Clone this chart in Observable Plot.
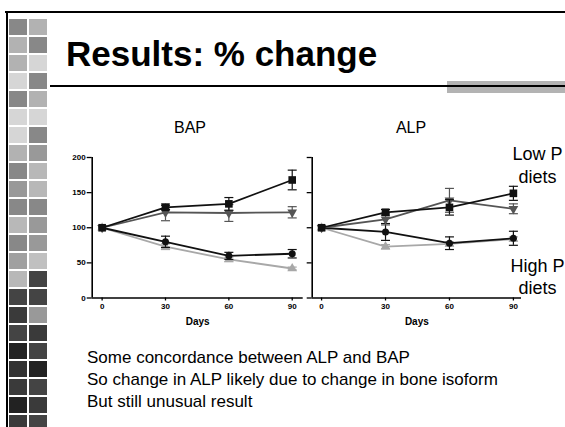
<!DOCTYPE html>
<html><head><meta charset="utf-8">
<script src="https://cdn.jsdelivr.net/npm/d3@7"></script>
<script src="https://cdn.jsdelivr.net/npm/@observablehq/plot@0.6"></script>
<style>
body{margin:0;background:#fff;}
#slide{position:relative;width:565px;height:427px;overflow:hidden;background:#fff;font-family:"Liberation Sans",Arial,sans-serif;color:#000;}
.abs{position:absolute;}
</style></head><body><div id="slide"></div>
<script>
// ---------- data ----------
const days = [0, 30, 60, 90];
const yTicks = [0, 50, 100, 150, 200];
const xTicks = [0, 30, 60, 90];

// BAP panel (% change), mean and error
const bapSquare = [100, 129, 134, 168];
const bapSquareErr = [0, 3, 9, 14];
const bapTriDown = [100, 122, 121, 122];
const bapTriDownErr = [0, 12, 12, 8];
const bapCircle = [100, 80, 60, 63];
const bapCircleErr = [0, 8, 5, 6];
const bapTriUp = [100, 73, 55, 42];
const bapTriUpErr = [0, 4, 3, 2];

// ALP panel
const alpSquare = [100, 122, 129, 149];
const alpSquareErr = [0, 4, 11, 10];
const alpTriDown = [100, 112, 139, 127];
const alpTriDownErr = [0, 8, 17, 7];
const alpCircle = [100, 94, 78, 85];
const alpCircleErr = [0, 12, 9, 10];
const alpTriUp = [100, 73, 77, 84];
const alpTriUpErr = [0, 3, 3, 3];

const panelTitles = ["BAP", "ALP"];
const xLabel = "Days";
const titleText = "Results: % change";
const bodyLines = ["Some concordance between ALP and BAP", "So change in ALP likely due to change in bone isoform", "But still unusual result"];
const lowLabel = ["Low P", "diets"];
const highLabel = ["High P", "diets"];

// decorative tile column colours (left, right) per row
const tileLeft  = ["#888888","#b2b2b2","#b2b2b2","#d6d6d6","#888888","#d6d6d6","#d6d6d6","#b2b2b2","#888888","#999999","#888888","#b8b8b8","#888888","#a0a0a0","#b8b8b8","#444444","#3a3a3a","#444444","#222222","#333333","#3a3a3a","#222222","#3a3a3a"];
const tileRight = ["#b2b2b2","#888888","#d6d6d6","#888888","#b2b2b2","#d6d6d6","#888888","#999999","#b8b8b8","#b8b8b8","#888888","#999999","#999999","#c0c0c0","#444444","#444444","#999999","#3a3a3a","#444444","#222222","#444444","#3a3a3a","#444444"];

// ---------- symbols ----------
const sqrt3 = Math.sqrt(3);
const triUp = {draw(ctx, size){ const y = -Math.sqrt(size/(sqrt3*3)); ctx.moveTo(0, y*2); ctx.lineTo(-sqrt3*y, -y); ctx.lineTo(sqrt3*y, -y); ctx.closePath(); }};
const triDown = {draw(ctx, size){ const y = Math.sqrt(size/(sqrt3*3)); ctx.moveTo(0, y*2); ctx.lineTo(-sqrt3*y, -y); ctx.lineTo(sqrt3*y, -y); ctx.closePath(); }};
const capSym = {draw(ctx, size){ const r = Math.sqrt(size/Math.PI); ctx.moveTo(-r, 0); ctx.lineTo(r, 0); }};

const seriesStyle = [
  {key: "tup", symbol: triUp, color: "#a8a8a8", r: 3.6},
  {key: "circ", symbol: "circle", color: "#111", r: 3.5},
  {key: "tdown", symbol: triDown, color: "#555", r: 3.6},
  {key: "sq", symbol: "square", color: "#111", r: 4.3}
];

function rowsFor(vals, errs){ return days.map((d,i)=>({day:d, v:vals[i], e:errs[i]})); }

const bapData = {tup: rowsFor(bapTriUp,bapTriUpErr), circ: rowsFor(bapCircle,bapCircleErr), tdown: rowsFor(bapTriDown,bapTriDownErr), sq: rowsFor(bapSquare,bapSquareErr)};
const alpData = {tup: rowsFor(alpTriUp,alpTriUpErr), circ: rowsFor(alpCircle,alpCircleErr), tdown: rowsFor(alpTriDown,alpTriDownErr), sq: rowsFor(alpSquare,alpSquareErr)};

const FONT = '"Liberation Sans", Arial, sans-serif';
const slide = document.getElementById("slide");

function place(el, left, top){ const w = document.createElement("div"); w.className="abs"; w.style.left=left+"px"; w.style.top=top+"px"; w.appendChild(el); slide.appendChild(w); return w; }
function box(left, top, w, h, color){ const d=document.createElement("div"); d.className="abs"; Object.assign(d.style,{left:left+"px",top:top+"px",width:w+"px",height:h+"px",background:color}); slide.appendChild(d); }
function text(str, left, top, css){ const d=document.createElement("div"); d.className="abs"; d.innerHTML=str; Object.assign(d.style,{left:left+"px",top:top+"px",whiteSpace:"nowrap"},css); slide.appendChild(d); }

// ---------- tiles ----------
const tiles = [];
tileLeft.forEach((c,i)=>tiles.push({col:0,row:i,color:c}));
tileRight.forEach((c,i)=>tiles.push({col:1,row:i,color:c}));
const tilePlot = Plot.plot({
  width: 50, height: 427, margin: 0,
  x: {type:"band", domain:[0,1], range:[8,47.5], paddingInner:0.1, paddingOuter:0, axis:null},
  y: {type:"band", domain:d3.range(tileLeft.length), range:[13, 13+18.5*tileLeft.length-1.85], paddingInner:0.1, paddingOuter:0, axis:null},
  color: {type:"identity"},
  style: {background:"transparent"},
  marks: [Plot.cell(tiles, {x:"col", y:"row", fill:"color"})]
});
place(tilePlot, 0, 0);

// frame lines
box(5, 11, 560, 2.3, "#000");
box(5.7, 11, 2.3, 416, "#000");

// title + rules
text(titleText, 66, 36.4, {fontSize:"35px", fontWeight:"bold", lineHeight:"35px", fontFamily:FONT});
box(447, 81, 118, 12, "#b3b3b3");
box(50, 85, 515, 2, "#000");

// ---------- charts ----------
function chart(data, opts){
  const marks = [
    Plot.axisY(yTicks, {tickSize:5, tickPadding:1.5, fontSize:8, fontWeight:"bold", strokeWidth:1.3, label:null, tickFormat: opts.yLabels ? (d=>d) : (()=>"")}),
    Plot.axisX(xTicks, {tickSize:3, tickPadding:2.5, fontSize:8, fontWeight:"bold", strokeWidth:1.3, label:null}),
    Plot.ruleX([opts.xDomain[0]], {y1:0, y2:200, strokeWidth:1.6}),
    Plot.ruleY([0], {strokeWidth:1.6}),
    Plot.text([xLabel], {text:d=>d, frameAnchor:"bottom", lineAnchor:"middle", dy:23.5, fontSize:10, fontWeight:"bold"})
  ];
  for (const s of seriesStyle){
    const rows = data[s.key];
    const er = rows.filter(d=>d.e>0);
    marks.push(Plot.line(rows, {x:"day", y:"v", stroke:s.color, strokeWidth:1.8}));
    marks.push(Plot.ruleX(er, {x:"day", y1:d=>d.v-d.e, y2:d=>d.v+d.e, stroke:s.color, strokeWidth:1.2}));
    marks.push(Plot.dot(er, {x:"day", y:d=>d.v+d.e, symbol:capSym, r:4.5, stroke:s.color, fill:"none", strokeWidth:1.2}));
    marks.push(Plot.dot(er, {x:"day", y:d=>d.v-d.e, symbol:capSym, r:4.5, stroke:s.color, fill:"none", strokeWidth:1.2}));
    marks.push(Plot.dot(rows, {x:"day", y:"v", symbol:s.symbol, r:s.r, fill:s.color, stroke:"none"}));
  }
  return Plot.plot({
    width: opts.width, height: 185,
    marginLeft: opts.marginLeft, marginRight: opts.marginRight, marginTop: 12, marginBottom: 32.5,
    x: {domain: opts.xDomain},
    y: {domain: [0, 200]},
    style: {background:"transparent", overflow:"visible", fontFamily:FONT, color:"#000"},
    marks
  });
}

place(chart(bapData, {width:250, marginLeft:31.7, marginRight:7.3, xDomain:[-4.7, 95.2], yLabels:true}), 60, 145);
place(chart(alpData, {width:240, marginLeft:21.7, marginRight:9, xDomain:[-4.4, 93.8], yLabels:false}), 290, 145);

// panel titles
text(panelTitles[0], 140, 120, {fontSize:"16px", lineHeight:"16px", width:"100px", textAlign:"center", fontFamily:FONT});
text(panelTitles[1], 361, 120, {fontSize:"16px", lineHeight:"16px", width:"100px", textAlign:"center", fontFamily:FONT});

// right-side annotations
text(lowLabel.join("<br>"), 505, 143.3, {fontSize:"18px", lineHeight:"23px", width:"65px", textAlign:"center", fontFamily:FONT});
text(highLabel.join("<br>"), 505, 254.8, {fontSize:"18px", lineHeight:"22px", width:"65px", textAlign:"center", fontFamily:FONT});

// body text
text(bodyLines.join("<br>"), 87, 347, {fontSize:"17px", lineHeight:"22px", fontFamily:FONT});
</script></body></html>
